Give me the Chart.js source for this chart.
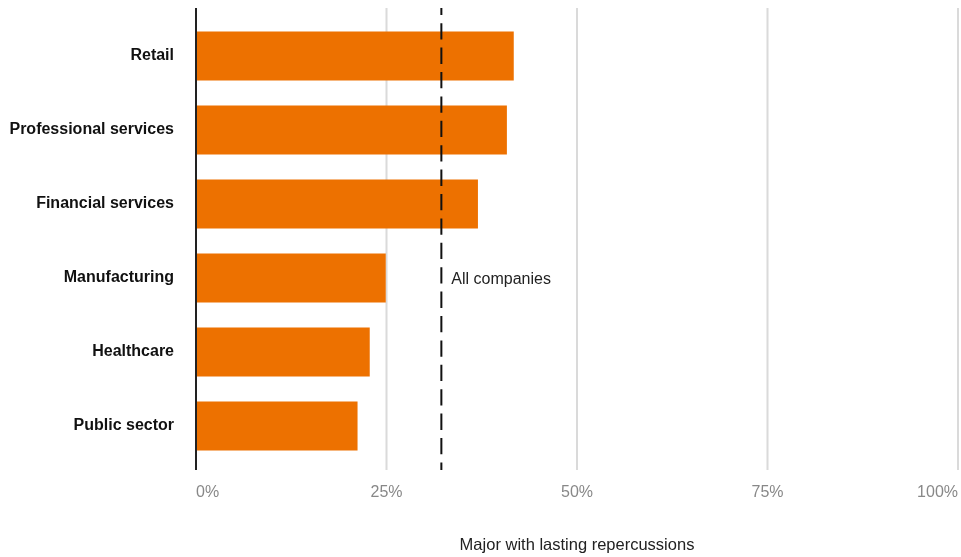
<!DOCTYPE html>
<html>
<head>
<meta charset="utf-8">
<script src="https://cdn.jsdelivr.net/npm/chart.js@4"></script>
<style>
  html, body { margin: 0; padding: 0; background: #fff; }
  #wrap { width: 961px; height: 557px; position: relative; }
</style>
</head>
<body>
<div id="wrap"><canvas id="chart"></canvas></div>
<script>
// --- data ---
var sectors = ['Retail', 'Professional services', 'Financial services', 'Manufacturing', 'Healthcare', 'Public sector'];
var lastingShare = [41.7, 40.8, 37.0, 24.9, 22.8, 21.2];
var allCompanies = 32.2;
var allCompaniesLabel = 'All companies';
var xTicks = [0, 25, 50, 75, 100];
var xTitle = 'Major with lasting repercussions';

var FONT = '"Liberation Sans", Arial, sans-serif';

// gridlines, reference line and axis line, extended a bit past the chart area
var overlay = {
  id: 'overlay',
  beforeDatasetsDraw: function(chart) {
    var ctx = chart.ctx, area = chart.chartArea, x = chart.scales.x;
    ctx.save();
    ctx.strokeStyle = '#dadada';
    ctx.lineWidth = 2;
    xTicks.forEach(function(v) {
      if (v === 0) return;
      var px = x.getPixelForValue(v);
      ctx.beginPath();
      ctx.moveTo(px, area.top - 11);
      ctx.lineTo(px, area.bottom + 7);
      ctx.stroke();
    });
    ctx.restore();
  },
  afterDatasetsDraw: function(chart) {
    var ctx = chart.ctx, area = chart.chartArea, x = chart.scales.x, y = chart.scales.y;
    var top = area.top - 11, bottom = area.bottom + 7;
    ctx.save();

    // all companies reference
    var rx = x.getPixelForValue(allCompanies);
    ctx.strokeStyle = '#111';
    ctx.lineWidth = 2;
    ctx.setLineDash([16.3, 8.1]);
    ctx.lineDashOffset = 9.2;
    ctx.beginPath();
    ctx.moveTo(rx, top);
    ctx.lineTo(rx, bottom);
    ctx.stroke();
    ctx.setLineDash([]);

    ctx.fillStyle = '#222';
    ctx.font = '16px ' + FONT;
    ctx.textAlign = 'left';
    ctx.textBaseline = 'middle';
    ctx.fillText(allCompaniesLabel, rx + 10, y.getPixelForValue(3) + 2);

    // zero axis
    var zx = x.getPixelForValue(0);
    ctx.strokeStyle = '#222';
    ctx.lineWidth = 2;
    ctx.beginPath();
    ctx.moveTo(zx, top);
    ctx.lineTo(zx, bottom);
    ctx.stroke();
    ctx.restore();
  }
};

new Chart(document.getElementById('chart').getContext('2d'), {
  type: 'bar',
  data: {
    labels: sectors,
    datasets: [{
      data: lastingShare,
      backgroundColor: '#ed7100',
      borderWidth: 0,
      barPercentage: 1,
      categoryPercentage: 0.662
    }]
  },
  options: {
    indexAxis: 'y',
    responsive: true,
    maintainAspectRatio: false,
    animation: false,
    layout: { padding: { top: 19, right: 3, left: 0, bottom: 0 } },
    plugins: {
      legend: { display: false },
      tooltip: { enabled: false }
    },
    scales: {
      x: {
        min: 0,
        max: 100,
        afterFit: function(s) {
          s.height = 94;
          s.paddingLeft = 0;
          s.paddingRight = 0;
        },
        afterBuildTicks: function(s) {
          s.ticks = xTicks.map(function(v) { return { value: v }; });
        },
        grid: { display: false, drawTicks: false },
        border: { display: false },
        ticks: {
          align: 'inner',
          padding: 20,
          color: '#888',
          font: { family: FONT, size: 16 },
          callback: function(v) { return v + '%'; }
        },
        title: {
          display: true,
          text: xTitle,
          color: '#222',
          font: { family: FONT, size: 16.5 },
          padding: { top: 0, bottom: 2 }
        }
      },
      y: {
        afterFit: function(s) {
          s.width = 196;
          s.paddingTop = 0;
          s.paddingBottom = 0;
        },
        grid: { display: false, drawTicks: false },
        border: { display: false },
        ticks: {
          padding: 22,
          color: '#111',
          font: { family: FONT, size: 16, weight: 'bold' }
        }
      }
    }
  },
  plugins: [overlay]
});
</script>
</body>
</html>
